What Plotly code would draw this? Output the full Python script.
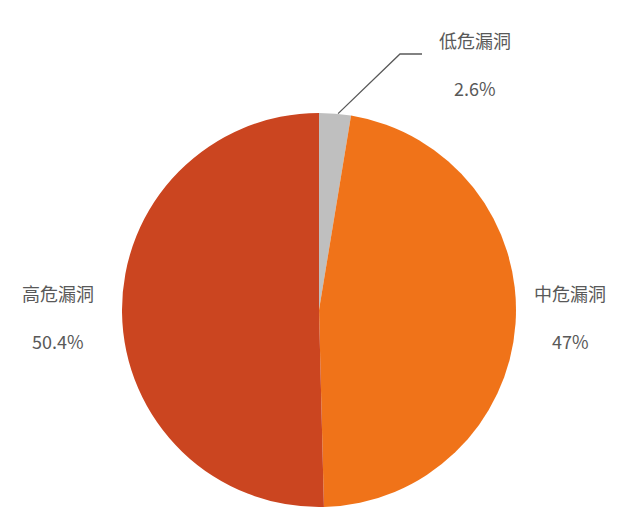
import math
import plotly.graph_objects as go

# === dati ===
labels = ["低危漏洞", "中危漏洞", "高危漏洞"]
values = [2.6, 47, 50.4]
colors = ["#BFBFBF", "#F07319", "#CB4520"]

W, H = 643, 528
cx, cy, r = 319, 310, 197   # centro e raggio della torta (pixel)


def px(x):
    return x / W


def py(y):
    return 1 - y / H


fig = go.Figure()

fig.add_trace(go.Pie(
    labels=labels,
    values=values,
    sort=False,
    direction="clockwise",
    rotation=0,
    marker=dict(colors=colors, line=dict(width=0)),
    textinfo="none",
    hoverinfo="label+percent",
    showlegend=False,
    domain=dict(x=[px(cx - r), px(cx + r)], y=[py(cy + r), py(cy - r)]),
))

# posizioni delle etichette (pixel, centro del testo)
label_pos = [(475, 40), (570, 293), (58, 293)]
gap = 48
font = dict(family="Noto Sans CJK SC, Noto Sans, sans-serif", size=18, color="#595959")

annotations = []
for lab, val, (lx, ly) in zip(labels, values, label_pos):
    pct = f"{val:g}%"
    for txt, yy in ((lab, ly), (pct, ly + gap)):
        annotations.append(dict(x=px(lx), y=py(yy), xref="paper", yref="paper",
                                xanchor="center", yanchor="middle",
                                text=txt, showarrow=False, font=font))

# linea guida per la fetta piccola
mid = values[0] / 2 / sum(values) * 2 * math.pi
sx = cx + r * math.sin(mid) + 3
sy = cy - r * math.cos(mid)
fig.add_shape(type="path", xref="paper", yref="paper",
              path=f"M {px(sx)},{py(sy)} L {px(400)},{py(54)} L {px(422)},{py(54)}",
              line=dict(color="#595959", width=1.3))

fig.update_layout(
    width=W, height=H,
    margin=dict(l=0, r=0, t=0, b=0),
    paper_bgcolor="white",
    plot_bgcolor="white",
    annotations=annotations,
)

fig.write_html("out.html", config={"displayModeBar": False},
               post_script="document.body.style.margin='0';")
